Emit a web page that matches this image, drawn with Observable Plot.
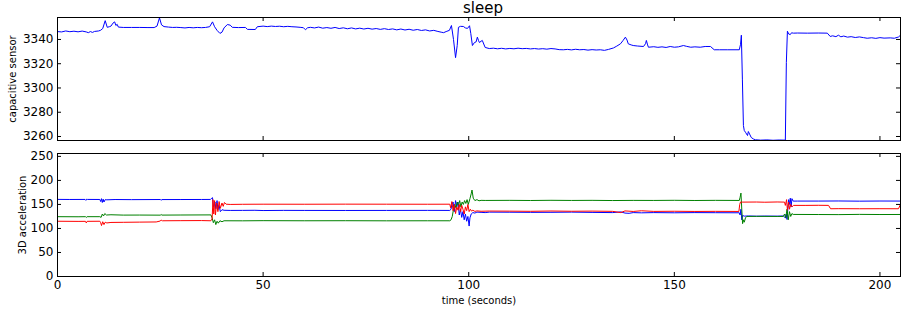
<!DOCTYPE html>
<html>
<head>
<meta charset="utf-8">
<script src="https://cdn.jsdelivr.net/npm/d3@7"></script>
<script src="https://cdn.jsdelivr.net/npm/@observablehq/plot@0.6"></script>
<style>
  html, body { margin: 0; padding: 0; background: #fff; }
  #chart svg { display: block; }
</style>
</head>
<body>
<div id="chart"></div>
<script>
// ---- data ----
const titleText = "sleep";
const capLabel = "capacitive sensor";
const accLabel = "3D acceleration";
const xLabel = "time (seconds)";
const xTicks = [0, 50, 100, 150, 200];
const capTicks = [3260, 3280, 3300, 3320, 3340];
const accTicks = [0, 50, 100, 150, 200, 250];

const capT = [0,1,2,3,4,5,6,7,7.5,8,8.5,9,10,10.5,11.0,11.6,12.1,12.6,13.0,13.5,13.9,14.2,14.5,14.8,16,18,20,22,23.5,24.2,24.8,25.3,25.9,27,28,29,30,31,32,33,34,35,36,37.0,37.7,38.2,38.8,39.5,40.0,40.5,41.3,42,42.5,44,45.7,46.2,48.1,48.6,50,51,52,53,54,55,56,57,58,59,59.8,60.3,60.8,61.5,62.5,63.5,64.5,65.5,66.5,67.5,68.5,69.5,70.5,71.5,72.5,73.5,74.5,75.5,76.5,77.5,78.5,79.5,80.5,81.5,82.5,83.5,84.5,85.5,86.5,87.5,88.5,89.5,90.5,91.5,92.5,93.3,93.9,94.5,95.3,95.8,96.3,96.8,97.2,97.5,98.0,98.7,99.2,99.7,100.2,100.5,100.9,101.4,101.8,102.1,102.4,102.6,103.0,103.3,104.0,105,106,107,108,109,110,111,112,113,114,115,116,117,118,119,120,121,122,123,124,125,126,127,128,129,130,131,132,133,134,135.2,136,136.9,137.5,138.1,138.5,138.8,139.5,140.0,141,142.5,143.0,143.2,143.5,143.7,145,146,147,148,149,150,151,152.2,153,154,155,156.3,157.5,158.8,159.7,161,163,165.8,166.1,166.3,166.55,166.8,167.0,167.3,167.8,168.0,168.3,168.7,169.2,169.7,171,172.5,174,175.5,177.0,177.24,177.5,177.8,178.2,178.5,178.95,180,182.35,185,187.2,187.9,188.5,189.3,189.9,190.5,191.2,192.1,193,194,195,196,196.9,198,199,200,201,202.5,203.5,204.5,205];
const capV = [3346.5,3346.2,3347.0,3346.4,3346.8,3346.3,3346.9,3346.2,3345.6,3346.5,3345.8,3346.6,3347.0,3347.6,3349.0,3355.5,3350.0,3350.5,3351.0,3353.5,3354.5,3351.5,3352.5,3350.2,3349.9,3349.9,3349.9,3349.8,3349.8,3351.0,3357.8,3352.0,3350.6,3350.2,3349.9,3350.0,3349.8,3349.5,3349.9,3349.6,3349.9,3349.7,3349.9,3350.5,3354.5,3350.5,3347.5,3345.0,3346.0,3349.5,3352.3,3351.8,3350.0,3349.8,3349.9,3348.3,3348.2,3350.5,3351.0,3350.6,3351.0,3350.7,3350.9,3350.5,3350.8,3350.5,3350.3,3350.0,3349.7,3348.0,3349.6,3350.0,3349.5,3350.2,3349.3,3349.8,3349.2,3349.9,3349.0,3349.6,3348.8,3349.5,3348.7,3349.3,3348.6,3349.2,3348.5,3349.0,3348.3,3348.9,3348.2,3348.7,3347.9,3348.6,3347.8,3348.4,3347.6,3348.2,3347.4,3347.9,3347.0,3347.5,3346.6,3346.0,3345.6,3346.5,3347.5,3351.5,3340.0,3325.0,3335.0,3350.0,3350.8,3350.7,3349.5,3349.1,3351.3,3345.0,3335.0,3337.5,3338.0,3341.9,3339.0,3337.5,3338.5,3339.2,3333.4,3332.5,3332.8,3332.3,3332.7,3332.2,3332.6,3332.3,3332.8,3332.4,3332.6,3332.2,3332.5,3332.1,3332.4,3332.0,3332.5,3332.2,3331.6,3331.5,3331.8,3331.4,3331.9,3331.5,3331.7,3331.2,3331.6,3331.3,3331.5,3331.0,3331.8,3333.0,3334.5,3336.4,3339.0,3341.9,3339.5,3336.4,3335.5,3335.0,3334.6,3334.2,3336.5,3339.2,3335.5,3333.6,3334.0,3333.5,3333.9,3333.4,3334.2,3333.6,3333.9,3335.0,3334.3,3333.6,3333.9,3333.6,3334.2,3334.2,3331.5,3331.5,3331.5,3331.5,3336.0,3343.5,3307.3,3269.1,3265.0,3263.5,3260.8,3264.1,3262.0,3259.2,3258.0,3257.3,3257.0,3257.2,3256.9,3257.1,3257.0,3321.0,3346.8,3344.5,3344.0,3345.5,3345.2,3345.3,3345.2,3345.3,3345.2,3342.5,3343.0,3342.3,3343.5,3342.2,3342.8,3341.9,3342.3,3341.6,3342.1,3341.5,3341.0,3341.4,3340.9,3341.5,3341.1,3341.3,3341.0,3342.0,3343.5];

const blueT = [0,3,6.7,6.9,7.1,7.3,10.3,10.5,10.7,10.9,11.1,11.3,11.6,12,14,18,25,25.2,25.4,30,35,37.2,37.5,37.7,37.9,38.1,38.3,38.5,38.8,39.0,39.3,39.6,40,40.5,42,45,48,50,55,60,70,80,90,95.4,95.7,95.9,96.2,96.5,96.8,97.1,97.4,97.7,98,98.3,98.6,98.9,99.2,99.5,99.8,100.1,100.3,100.6,101,101.5,102,103,104,105,110,115,120,125,130,135,137,138,139,140,142,145,150,155,160,165.8,166.0,166.2,166.4,166.6,167,168,170,172,175,176.5,177,177.2,177.4,177.6,177.8,178.0,178.2,178.4,178.6,178.9,180,185,190,195,200,205];
const blueV = [160.5,160.3,160.4,158.5,161,160.4,160.3,156,162,154,161,155,160.0,159.6,160.2,160.0,160.2,158.8,160.1,160.2,160.3,160.4,163,164,145,150,155,141,158,139,148,135,139,137.8,137.5,137.6,137.8,137.3,137.6,137.5,137.4,137.5,137.6,137.5,140,150,155,135,158,145,155,128,140,123,135,118,130,115,125,105,122,130,133,132,134,133.5,133,134,133.8,133.5,133.6,134,133.4,133,134.5,132,131.5,133,132.5,133,132.6,133,132.8,132.6,128,140,118,127,125.6,126,125.5,125.8,125.6,126,122,130,118.7,140,160,150,163,145,162,156.9,157,157,157.2,156.8,157.1,157];

const greenT = [0,5,6.8,7.0,7.2,10.3,10.6,10.9,11.2,11.5,11.9,13,16,20,25,25.2,25.4,30,37.3,37.6,37.9,38.2,38.5,38.8,39.1,39.5,40,40.5,45,50,60,70,80,90,95.4,95.7,96.0,96.3,96.6,96.9,97.2,97.5,97.8,98.1,98.4,98.7,99.0,99.3,99.6,99.9,100.3,100.6,100.8,101.1,101.5,102,102.5,103,104,110,115,120,125,130,135,140,145,150,155,160,165.8,166.0,166.2,166.4,166.6,166.8,167.0,167.3,167.6,170,175,176.5,176.8,177.1,177.4,177.7,178,178.3,178.6,178.9,185,190,195,200,205];
const greenV = [124.5,124.3,124.5,123,124.5,124.5,123,130,126,131,128,128.5,127.8,127.9,127.7,129,127.8,128,128.2,122,112,118,108,115,111,116,114,116,115.9,116.2,116,116.1,115.9,116,116,118,125,140,150,143,155,148,158,145,155,150,158,152,160,150,162,172,180,163,158,160,157.5,158.5,158.3,158.5,158.2,158.6,158.3,158.5,158.1,158.4,158.3,158.6,158.2,158.5,158.3,165,173.6,140,110,118,113,122,125,125.2,125,125,130,122,140,118,135,125,131,129.2,129,128.8,129.3,129,129.1];

const redT = [0,5,6.8,7.0,7.2,10.3,10.5,10.7,11.0,11.3,11.6,12.0,13,16,20,24,25,25.2,25.5,30,35,37.3,37.6,37.8,38.0,38.2,38.4,38.7,39.0,39.3,39.6,40,40.3,40.6,41,42,45,50,60,70,80,90,95.4,95.6,95.9,96.2,96.5,96.8,97.1,97.4,97.7,98.0,98.3,98.6,98.9,99.2,99.5,99.8,100.1,100.4,100.7,101,101.5,102,103,105,110,115,120,125,130,135,137,138,140,142,145,150,155,160,165.7,165.9,166.1,166.5,170,172,175,176.8,177.0,177.3,177.5,177.8,178.0,178.3,178.6,179,182,185,187.5,188,190,195,200,204.5,205];
const redV = [115,114.7,114.8,111.5,114.8,115,112,106,114,108,113,111.5,112.5,112.8,113.2,113.5,115.5,117.5,116,116.2,116.4,116,120,160,130,158,128,153,135,156,142,153,146,154,150.5,150,150.3,150.5,150.4,150.6,150.5,150.4,150.5,143,156,137,150,131,145,138,150,135,148,140,130,145,137,150,135,140,136,138,135.5,136.5,135.8,136.2,136,135.7,136.3,135.8,136.1,135.6,133,136.5,135.4,136.8,135.5,135.8,135.4,135.6,135.4,150,155,154.8,155,154.6,155.1,154.8,148,160,138,155,140,150,145,148,148,148.2,148,141,141.2,141,141.1,141,150];

// ---- build ----
const W = 901;
const FRAME_W = 843;
const FRAME_H = 123;
const font = {fontFamily: "'DejaVu Sans', sans-serif", fontSize: "12px", background: "#fff", color: "#000", overflow: "visible"};
const toRows = (ts, vs) => ts.map((t, i) => ({t, v: vs[i]}));
const plain = d => String(d);

function inwardTicks(yTicks) {
  return [
    Plot.tickY(yTicks, {y: d => d, insetRight: FRAME_W - 4, stroke: "#000"}),
    Plot.tickY(yTicks, {y: d => d, insetLeft: FRAME_W - 4, stroke: "#000"}),
    Plot.tickX(xTicks, {x: d => d, insetBottom: FRAME_H - 4, stroke: "#000"}),
    Plot.tickX(xTicks, {x: d => d, insetTop: FRAME_H - 4, stroke: "#000"})
  ];
}

const topPanel = Plot.plot({
  width: W, height: 147,
  marginTop: 17, marginBottom: 7, marginLeft: 57, marginRight: 1,
  style: font,
  x: {domain: [0, 205], axis: null},
  y: {domain: [3256.7, 3358.1]},
  marks: [
    Plot.line(toRows(capT, capV), {x: "t", y: "v", stroke: "#0000ff", strokeWidth: 1}),
    ...inwardTicks(capTicks),
    Plot.frame({stroke: "#000"}),
    Plot.axisY({ticks: capTicks, tickFormat: plain, tickSize: 0, tickPadding: 4, fontSize: 12, label: null}),
    Plot.text([capLabel], {text: d => d, frameAnchor: "left", textAnchor: "middle", rotate: -90, dx: -45, fontSize: 10}),
    Plot.text([titleText], {text: d => d, frameAnchor: "top", dy: -15, dx: 4, fontSize: 15})
  ]
});

const bottomPanel = Plot.plot({
  width: W, height: 164,
  marginTop: 6, marginBottom: 35, marginLeft: 57, marginRight: 1,
  style: font,
  x: {domain: [0, 205]},
  y: {domain: [0, 256]},
  marks: [
    Plot.line(toRows(blueT, blueV), {x: "t", y: "v", stroke: "#0000ff", strokeWidth: 1}),
    Plot.line(toRows(greenT, greenV), {x: "t", y: "v", stroke: "#008000", strokeWidth: 1}),
    Plot.line(toRows(redT, redV), {x: "t", y: "v", stroke: "#ff0000", strokeWidth: 1}),
    ...inwardTicks(accTicks),
    Plot.frame({stroke: "#000"}),
    Plot.axisY({ticks: accTicks, tickFormat: plain, tickSize: 0, tickPadding: 4, fontSize: 12, label: null}),
    Plot.axisX({ticks: xTicks, tickFormat: plain, tickSize: 0, tickPadding: 4, fontSize: 12, label: null}),
    Plot.text([accLabel], {text: d => d, frameAnchor: "left", textAnchor: "middle", rotate: -90, dx: -35, fontSize: 10}),
    Plot.text([xLabel], {text: d => d, frameAnchor: "bottom", dy: 27, fontSize: 10})
  ]
});

const chart = document.getElementById("chart");
chart.appendChild(topPanel);
chart.appendChild(bottomPanel);
</script>
</body>
</html>
